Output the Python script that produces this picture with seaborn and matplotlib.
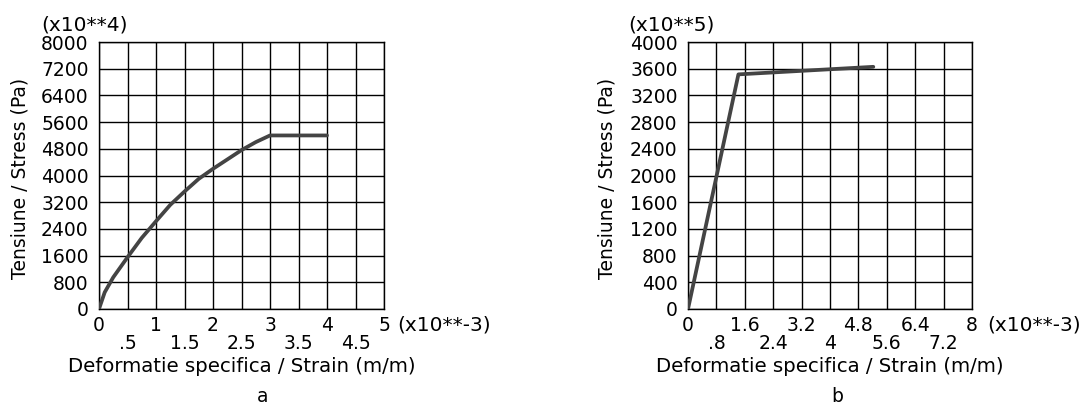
import matplotlib
matplotlib.use("Agg")
import matplotlib.pyplot as plt
import seaborn as sns
import pandas as pd

sns.set_style("white")
plt.rcParams['font.family'] = ['DejaVu Sans']
plt.rcParams['text.color'] = 'black'
plt.rcParams['axes.labelcolor'] = 'black'

# Panel a data (strain x10^-3, stress x10^4 Pa)
strain_a = [0, 0.1, 0.25, 0.5, 0.75, 1.0, 1.25, 1.5, 1.75, 2.0, 2.25, 2.5, 2.75, 3.0, 4.0]
stress_a = [0, 500, 950, 1550, 2130, 2630, 3120, 3520, 3900, 4200, 4480, 4760, 5000, 5200, 5200]
# Panel b data (strain x10^-3, stress x10^5 Pa)
strain_b = [0, 1.42, 5.22]
stress_b = [0, 3515, 3628]

xmajor_a = [0, 1, 2, 3, 4, 5]
xmajor_labels_a = ["0", "1", "2", "3", "4", "5"]
xminor_a = [0.5, 1.5, 2.5, 3.5, 4.5]
xminor_labels_a = [".5", "1.5", "2.5", "3.5", "4.5"]
yticks_a = [0, 800, 1600, 2400, 3200, 4000, 4800, 5600, 6400, 7200, 8000]

xmajor_b = [0, 1.6, 3.2, 4.8, 6.4, 8.0]
xmajor_labels_b = ["0", "1.6", "3.2", "4.8", "6.4", "8"]
xminor_b = [0.8, 2.4, 4.0, 5.6, 7.2]
xminor_labels_b = [".8", "2.4", "4", "5.6", "7.2"]
yticks_b = [0, 400, 800, 1200, 1600, 2000, 2400, 2800, 3200, 3600, 4000]

W, H = 1090, 407
fig = plt.figure(figsize=(W / 100, H / 100), dpi=100)

def make_axes(l, r, t, b):
    return fig.add_axes([l / W, 1 - b / H, (r - l) / W, (b - t) / H])

ax_a = make_axes(99, 384, 42, 309)
ax_b = make_axes(688, 972, 42, 309)

fs = 13.5
panels = [
    (ax_a, 99, 285, strain_a, stress_a, xmajor_a, xmajor_labels_a, xminor_a,
     xminor_labels_a, yticks_a, 5, 8000, "(x10**4)", 41, 397, 20, "a", 263),
    (ax_b, 688, 284, strain_b, stress_b, xmajor_b, xmajor_labels_b, xminor_b,
     xminor_labels_b, yticks_b, 8, 4000, "(x10**5)", 628, 987, 607, "b", 837),
]
for (ax, left, width, xs, ys, xmaj, xmajl, xmin, xminl, yt, xmax, ymax, ymult,
     mult_x, xmult_x, ylab_x, letter, letter_x) in panels:
    df = pd.DataFrame({"x": xs, "y": ys})
    sns.lineplot(data=df, x="x", y="y", ax=ax, color="#444444", linewidth=2.7,
                 sort=False, zorder=5)
    ax.set_xlim(0, xmax)
    ax.set_ylim(0, ymax)
    ax.set_xticks(xmaj)
    ax.set_xticklabels(xmajl, fontsize=fs)
    ax.set_xticks(xmin, minor=True)
    ax.set_xticklabels(xminl, minor=True, fontsize=fs)
    ax.set_yticks(yt)
    ax.set_yticklabels([str(v) for v in yt], fontsize=fs)
    ax.tick_params(axis="x", which="major", length=0, pad=5, colors="black")
    ax.tick_params(axis="x", which="minor", length=0, pad=18, colors="black")
    ax.tick_params(axis="y", length=0, pad=7.5, colors="black")
    ax.grid(True, which="both", axis="x", color="black", linewidth=1.0)
    ax.grid(True, which="major", axis="y", color="black", linewidth=1.0)
    for s in ax.spines.values():
        s.set_color("black")
        s.set_linewidth(1.0)
    ax.set_xlabel("Deformatie specifica / Strain (m/m)", fontsize=14.2, color="black")
    ax.xaxis.label.set_va("center")
    ax.xaxis.set_label_coords(0.5, (309 - 367) / 267)
    ax.set_ylabel("Tensiune / Stress (Pa)", fontsize=fs, color="black")
    ax.yaxis.label.set_va("center")
    ax.yaxis.set_label_coords((ylab_x - left) / width, (309 - 178) / 267)
    fig.text(xmult_x / W, 1 - 325 / H, "(x10**-3)", fontsize=14.5,
             ha="left", va="center", color="black")
    fig.text(mult_x / W, 1 - 25 / H, ymult, fontsize=14.5, ha="left",
             va="center", color="black")
    fig.text(letter_x / W, 1 - 402 / H, letter, fontsize=fs, ha="center",
             va="baseline", color="black")

fig.savefig("out.png", dpi=100, facecolor="white")
